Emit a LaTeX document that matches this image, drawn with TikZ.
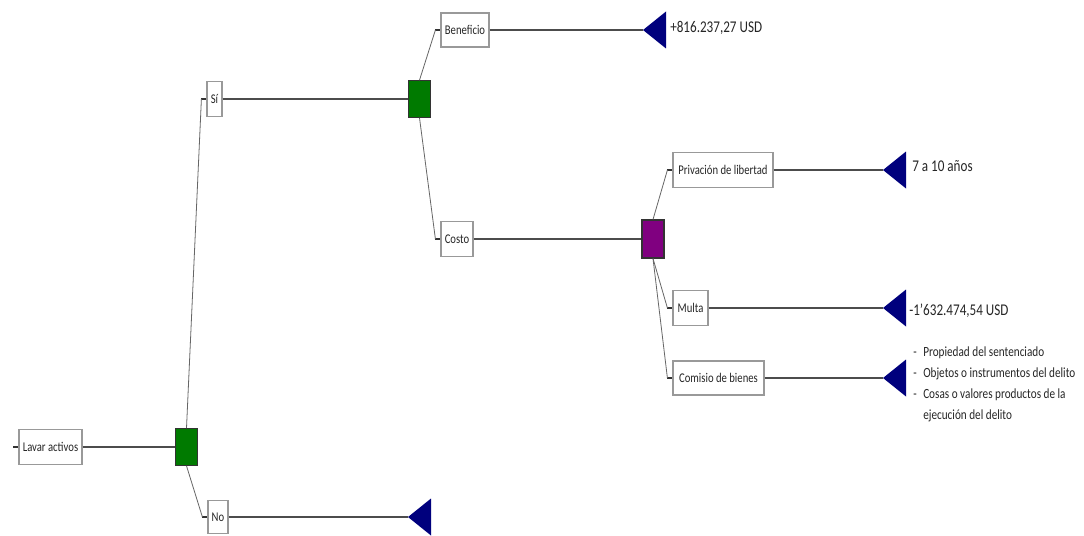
\documentclass[tikz,border=0pt]{standalone}
\usepackage{fontspec}
\setmainfont{Carlito}
\newfontfamily\cf[FakeStretch=0.8]{Carlito}
\usetikzlibrary{calc}
\definecolor{dgreen}{RGB}{0,122,0}
\definecolor{dpurple}{RGB}{128,0,128}
\definecolor{navy}{RGB}{0,0,125}
\begin{document}
\begin{tikzpicture}[x=0.75pt,y=-0.75pt,
  lbox/.style={draw=black!40, line width=0.9pt, fill=white, inner sep=0pt,
    minimum height=26pt, font=\cf\fontsize{10}{12}\selectfont, text=black!85},
  chance/.style={draw=black!80, line width=0.8pt, inner sep=0pt,
    minimum width=17pt, minimum height=27.5pt},
  mainline/.style={black!70, line width=2.1pt},
  conn/.style={black!60, line width=0.6pt},
  tick/.style={black!80, line width=0.8pt},
  tri/.style={fill=navy},
  val/.style={anchor=base west, inner sep=0pt, text=black!85, font=\cf\fontsize{12.3}{14}\selectfont},
  lst/.style={anchor=base west, inner sep=0pt, text=black!85, font=\cf\fontsize{10.5}{12}\selectfont}]
\fill[white] (0,0) rectangle (1084,535);
\useasboundingbox (0,0) rectangle (1084,535);

% boxes
\node[lbox, minimum width=47.25pt] (lavar) at (50.5,447) {Lavar activos};
\node[lbox, minimum width=11.25pt] (si) at (214.5,99) {Sí};
\node[lbox, minimum width=15pt, minimum height=24.75pt] (no) at (218,517) {No};
\node[lbox, minimum width=36pt, minimum height=25.5pt] (ben) at (465,30) {Beneficio};
\node[lbox, minimum width=24pt] (costo) at (457,239) {Costo};
\node[lbox, minimum width=75pt] (priv) at (723,170) {Privación de libertad};
\node[lbox, minimum width=26.25pt] (multa) at (690.5,308) {Multa};
\node[lbox, minimum width=68.25pt, minimum height=25.5pt] (com) at (718.5,378) {Comisio de bienes};

% ticks
\foreach \b in {lavar,si,no,ben,costo,priv,multa,com}{
  \coordinate (\b T) at ($(\b.west)+(-5,0)$);
  \draw[tick] (\b T) -- (\b.west);
}

% decision nodes
\node[chance, fill=dgreen] (d1) at (186.5,447) {};
\node[chance, fill=dgreen] (d2) at (419.5,99) {};
\node[chance, fill=dpurple, minimum width=16.5pt, minimum height=28.5pt] (d3) at (653,239) {};

% terminal triangles
\coordinate (tno) at (408,517);
\coordinate (tben) at (643,30);
\coordinate (tpriv) at (883,170);
\coordinate (tmulta) at (883,308);
\coordinate (tcom) at (883,378);
\foreach \t in {tno,tben,tpriv,tmulta,tcom}{
  \fill[tri] (\t) -- ++(23,-18.5) -- ++(0,37) -- cycle;
}

% main lines
\draw[mainline] (lavar.east) -- (d1.west);
\draw[mainline] (si.east) -- (d2.west);
\draw[mainline] (no.east) -- (tno);
\draw[mainline] (ben.east) -- (tben);
\draw[mainline] (costo.east) -- (d3.west);
\draw[mainline] (priv.east) -- (tpriv);
\draw[mainline] (multa.east) -- (tmulta);
\draw[mainline] (com.east) -- (tcom);

% branch connectors
\draw[conn] (d1.north) -- (siT);
\draw[conn] (d1.south) -- (noT);
\draw[conn] (d2.north) -- (benT);
\draw[conn] (d2.south) -- (costoT);
\draw[conn] (d3.north) -- (privT);
\draw[conn] (d3.south) -- (multaT);
\draw[conn] (d3.south) -- (comT);

% values
\node[val] (vben) at (670,33) {+816.237,27 USD};
\node[val] (vpriv) at (912,171) {7 a 10 años};
\node[val] (vmulta) at (909,315) {-1’632.474,54 USD};
\node[lst] (l1) at (913,356) {\makebox[7.5pt][l]{-}Propiedad del sentenciado};
\node[lst] (l2) at (913,377) {\makebox[7.5pt][l]{-}Objetos o instrumentos del delito};
\node[lst] (l3) at (913,398) {\makebox[7.5pt][l]{-}Cosas o valores productos de la};
\node[lst] (l4) at (913,419) {\makebox[7.5pt][l]{}ejecución del delito};
\end{tikzpicture}
\end{document}
